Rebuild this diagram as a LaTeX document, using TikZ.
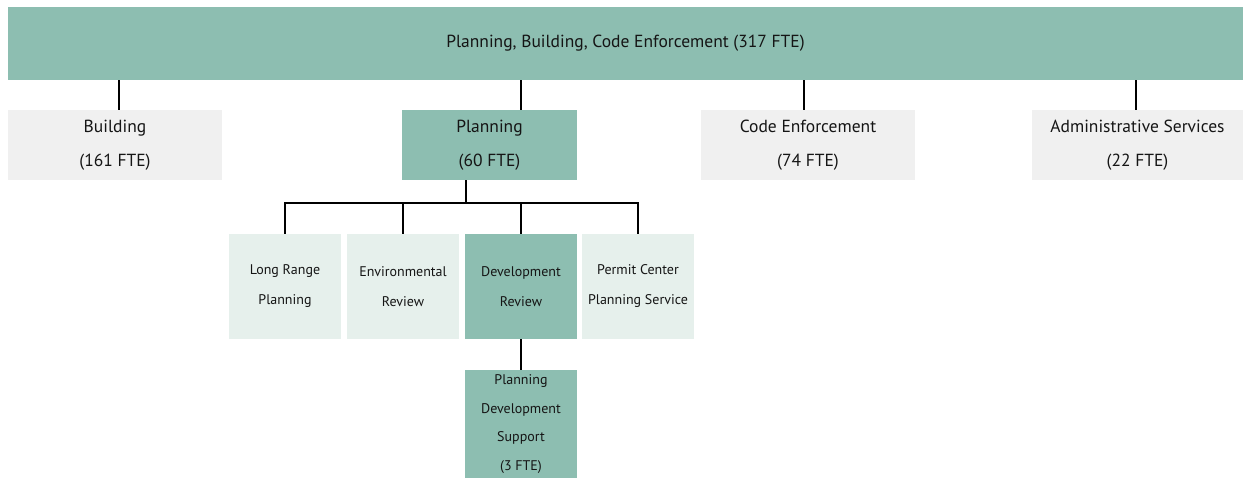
\documentclass[tikz,border=0pt]{standalone}
\usepackage{fontspec}
\setmainfont{PT Sans}
\definecolor{teal1}{HTML}{8DBEB1}
\definecolor{lteal}{HTML}{E6F0EC}
\definecolor{lgrey}{HTML}{F0F0F0}
\definecolor{txt}{HTML}{151515}
\begin{document}
\begin{tikzpicture}[x=1pt,y=-1pt,
  box/.style={rectangle,inner sep=0pt,align=center,text=txt,anchor=center},
  topbox/.style={box,fill=teal1,font=\fontsize{17.5}{34}\selectfont},
  lvone/.style={box,fill=lgrey,minimum width=214pt,minimum height=70pt,font=\fontsize{17.5}{34}\selectfont},
  lvonehi/.style={lvone,fill=teal1},
  sub/.style={box,fill=lteal,minimum width=112pt,minimum height=105pt,font=\fontsize{14}{30}\selectfont},
  subhi/.style={sub,fill=teal1},
  conn/.style={draw=black,line width=2pt}]
\useasboundingbox (0,0) rectangle (1243,478);
\node[topbox,minimum width=1235pt,minimum height=73pt] (top) at (625.5,43.5) {Planning, Building, Code Enforcement (317 FTE)};
\node[lvone] (building) at (115,145) {Building\\(161 FTE)};
\node[lvonehi,minimum width=175pt] (planning) at (489.5,145) {Planning\\(60 FTE)};
\node[lvone] (code) at (808,145) {Code Enforcement\\(74 FTE)};
\node[lvone,minimum width=211pt] (admin) at (1137.5,145) {Administrative Services\\(22 FTE)};
\node[sub] (lr) at (285,286.5) {Long Range\\Planning};
\node[sub] (env) at (403,286.5) {Environmental\\Review};
\node[subhi] (devrev) at (521,286.5) {Development\\Review};
\node[sub] (permit) at (638,286.5) {Permit Center\\Planning Service};
\node[subhi,minimum height=108pt,font=\fontsize{14}{28.5}\selectfont] (pds) at (521,424) {Planning\\Development\\Support\\(3 FTE)};
\coordinate (bus) at (466,203);
\draw[conn] ([xshift=4pt]top.south -| building.north) -- ([xshift=4pt]building.north);
\draw[conn] (top.south -| devrev.north) -- (planning.north -| devrev.north);
\draw[conn] ([xshift=-4pt]top.south -| code.north) -- ([xshift=-4pt]code.north);
\draw[conn] ([xshift=-1.5pt]top.south -| admin.north) -- ([xshift=-1.5pt]admin.north);
\draw[conn] (planning.south -| bus) -- (bus);
\draw[conn,line cap=rect] (bus -| lr.north) -- (bus -| permit.north);
\draw[conn] (bus -| lr.north) -- (lr.north);
\draw[conn] (bus -| env.north) -- (env.north);
\draw[conn] (bus -| devrev.north) -- (devrev.north);
\draw[conn] (bus -| permit.north) -- (permit.north);
\draw[conn] (devrev.south) -- (pds.north);
\end{tikzpicture}
\end{document}
